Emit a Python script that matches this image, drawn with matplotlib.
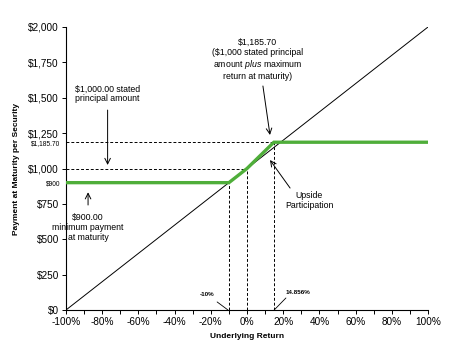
import matplotlib
matplotlib.use("Agg")
import matplotlib.pyplot as plt
from matplotlib.ticker import FuncFormatter, MultipleLocator

plt.rcParams['font.family'] = ['Liberation Sans', 'DejaVu Sans']
plt.rcParams['mathtext.fontset'] = 'custom'
plt.rcParams['mathtext.rm'] = 'Liberation Sans'
plt.rcParams['mathtext.it'] = 'Liberation Sans:italic'

# Payoff profile of the security (underlying return in %, payment in $)
underlying_return = [-100, -10, 0, 14.856, 100]
payment = [900, 900, 1000, 1185.70, 1185.70]

# Underlying performance reference line
underlying_x = [-100, 100]
underlying_value = [0, 2000]

floor_payment = 900
principal = 1000
cap_payment = 1185.70
buffer_return = -10
cap_return = 14.856

major_yticks = [0, 250, 500, 750, 1000, 1250, 1500, 1750, 2000]
extra_yticks = [floor_payment, cap_payment]
extra_ylabels = ["$900", "$1,185.70"]
xticks = [-100, -80, -60, -40, -20, 0, 20, 40, 60, 80, 100]

fig = plt.figure(figsize=(4.55, 3.47), dpi=100)
ax = fig.add_axes([0.145, 0.1066, 0.7957, 0.8156])

ax.plot(underlying_x, underlying_value, color='black', lw=0.7, zorder=2)
ax.plot(underlying_return, payment, color='#4fae3a', lw=2.4,
        solid_joinstyle='miter', zorder=3)

dash = dict(color='black', lw=0.7, ls=(0, (3, 2)), zorder=1)
ax.plot([-100, 0], [principal, principal], **dash)
ax.plot([-100, cap_return], [cap_payment, cap_payment], **dash)
ax.plot([buffer_return, buffer_return], [0, floor_payment], **dash)
ax.plot([0, 0], [0, principal], **dash)
ax.plot([cap_return, cap_return], [0, cap_payment], **dash)

ax.set_xlim(-100, 100)
ax.set_ylim(0, 2000)
for s in ['top', 'right']:
    ax.spines[s].set_visible(False)
for s in ['left', 'bottom']:
    ax.spines[s].set_linewidth(0.8)

ax.set_xticks(xticks)
ax.xaxis.set_minor_locator(MultipleLocator(10))
ax.xaxis.set_major_formatter(FuncFormatter(lambda v, p: f"{v:.0f}%"))
ax.set_yticks(major_yticks)
ax.yaxis.set_major_formatter(FuncFormatter(lambda v, p: f"${v:,.0f}"))
ax.set_yticks(extra_yticks, minor=True)
ax.set_yticklabels(extra_ylabels, minor=True, fontsize=4.8)
ax.tick_params(axis='both', which='major', labelsize=7.2, length=3, width=0.7, pad=2)
ax.tick_params(axis='x', which='minor', length=3, width=0.7)
ax.tick_params(axis='y', which='minor', length=0, pad=4)

ax.set_xlabel("Underlying Return", fontsize=6, fontweight='bold', labelpad=4)
ax.set_ylabel("Payment at Maturity per Security", fontsize=6, fontweight='bold', labelpad=6)

arrow = dict(arrowstyle='->', color='black', lw=0.7, shrinkA=0, shrinkB=0)
plain = dict(arrowstyle='-', color='black', lw=0.6, shrinkA=0, shrinkB=0)
tfs = 6.3

ax.text(-77, 1527, "$1,000.00 stated\nprincipal amount",
        ha='center', va='center', fontsize=tfs, linespacing=1.15)
ax.annotate("", xy=(-77, 1025), xytext=(-77, 1413), arrowprops=arrow)

# Minimum-payment note, one line per text so it sits clear of the tick labels
floor_note = [("$900.00", 656), ("minimum payment", 582), ("at maturity", 510)]
for line, yv in floor_note:
    ax.text(-87.8, yv, line, ha='center', va='center', fontsize=tfs)
ax.annotate("", xy=(-87.8, 832), xytext=(-87.8, 742), arrowprops=arrow)

ax.text(6, 1770, "$1,185.70\n($1,000 stated principal\namount $\\mathit{plus}$ maximum\nreturn at maturity)",
        ha='center', va='center', fontsize=tfs, linespacing=1.15)
ax.annotate("", xy=(12.7, 1237), xytext=(8.8, 1583), arrowprops=arrow)
ax.text(34.3, 777, "Upside\nParticipation", ha='center', va='center', fontsize=tfs,
        linespacing=1.15)
ax.annotate("", xy=(12.7, 1060), xytext=(23.8, 862), arrowprops=arrow)

ax.text(-22, 113, "-10%", ha='center', va='center', fontsize=4.5, fontweight='bold')
ax.annotate("", xy=(-10.5, 0), xytext=(-16.5, 57), arrowprops=plain)
ax.text(28, 127, "14.856%", ha='center', va='center', fontsize=4.5, fontweight='bold')
ax.annotate("", xy=(15, 0), xytext=(21.5, 85), arrowprops=plain)

fig.savefig("out.png", dpi=100)
